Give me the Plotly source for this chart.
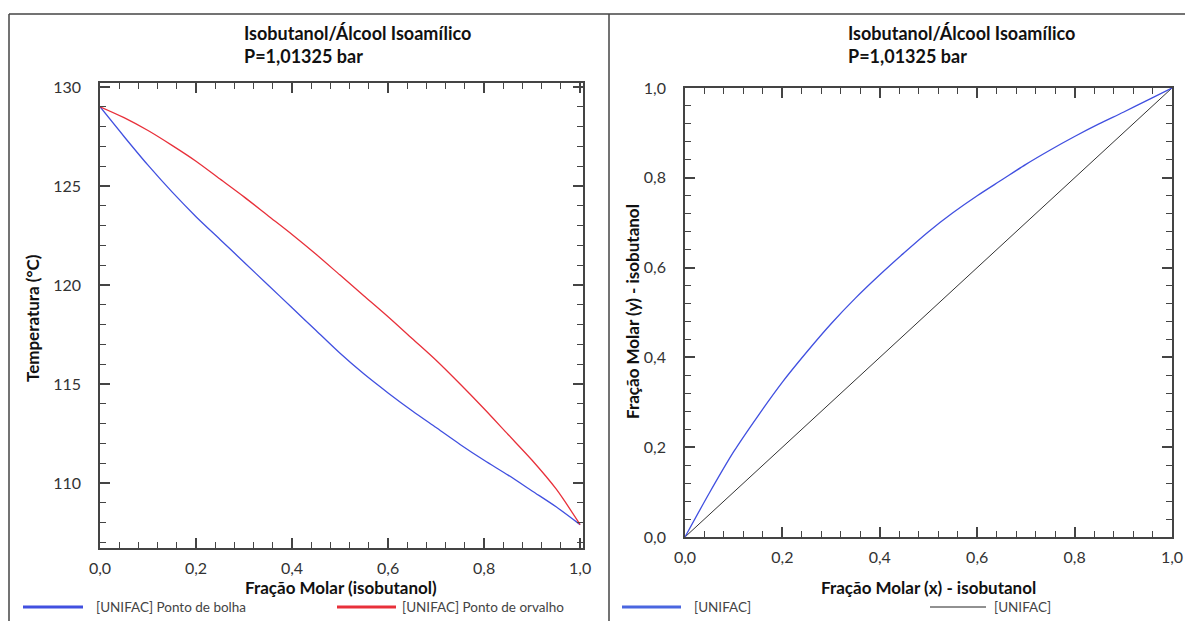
import plotly.graph_objects as go

# --- T-x-y diagram (isobutanol / isoamyl alcohol, UNIFAC, P = 1.01325 bar) ---
x_frac = [0.00, 0.05, 0.10, 0.15, 0.20, 0.25, 0.30, 0.35, 0.40, 0.45, 0.50,
          0.55, 0.60, 0.65, 0.70, 0.75, 0.80, 0.85, 0.90, 0.95, 1.00]
t_bubble = [129.0, 127.5, 126.05, 124.7, 123.45, 122.3, 121.15, 120.0, 118.85, 117.7, 116.55,
            115.5, 114.55, 113.65, 112.8, 111.95, 111.15, 110.4, 109.6, 108.8, 107.9]
t_dew = [129.0, 128.45, 127.8, 127.05, 126.25, 125.35, 124.45, 123.5, 122.55, 121.55, 120.5,
         119.45, 118.4, 117.3, 116.2, 115.0, 113.75, 112.45, 111.15, 109.7, 107.9]

# --- x-y equilibrium diagram ---
y_vapor = [0.0, 0.098, 0.19, 0.27, 0.345, 0.412, 0.475, 0.532, 0.584, 0.633, 0.68,
           0.722, 0.76, 0.795, 0.83, 0.862, 0.892, 0.92, 0.946, 0.973, 1.0]
diag = [0.0, 1.0]

W, H = 1185, 621
M = 2  # thin page margin around the drawing area
BLUE = "#4150e0"
RED = "#e8303a"
AX = "#444444"
TXT = "#333333"
FONT = "Lato"


def px(x):
    return (x - M) / (W - 2 * M)


def py(y):
    return 1 - (y - M) / (H - 2 * M)


fig = go.Figure()
smooth = dict(shape="spline", smoothing=0.8)
fig.add_trace(go.Scatter(x=x_frac, y=t_bubble, mode="lines", name="[UNIFAC] Ponto de bolha",
                         line=dict(color=BLUE, width=1.3, **smooth), xaxis="x", yaxis="y"))
fig.add_trace(go.Scatter(x=x_frac, y=t_dew, mode="lines", name="[UNIFAC] Ponto de orvalho",
                         line=dict(color=RED, width=1.3, **smooth), xaxis="x", yaxis="y"))
fig.add_trace(go.Scatter(x=diag, y=diag, mode="lines", name="[UNIFAC]",
                         line=dict(color="#333333", width=1), xaxis="x2", yaxis="y2"))
fig.add_trace(go.Scatter(x=x_frac, y=y_vapor, mode="lines", name="[UNIFAC]",
                         line=dict(color=BLUE, width=1.3, **smooth), xaxis="x2", yaxis="y2"))


def axis(domain, rng, anchor, dtick, minor_dtick, fmt, standoff):
    return dict(domain=domain, range=rng, anchor=anchor, tickmode="linear", tick0=0,
                dtick=dtick, tickformat=fmt, layer="above traces",
                showline=True, linecolor=AX, linewidth=1.5, mirror="ticks",
                ticks="inside", ticklen=10, tickwidth=1.5, tickcolor=AX,
                minor=dict(dtick=minor_dtick, ticks="inside",
                           ticklen=6, tickwidth=1.3, tickcolor=AX),
                showgrid=True, gridcolor="rgba(0,0,0,0)", zeroline=False,
                ticklabelstandoff=standoff,
                tickfont=dict(family=FONT, size=16, color=TXT))


fig.update_layout(
    template="none",
    width=W, height=H, margin=dict(l=M, r=M, t=M, b=M),
    paper_bgcolor="white", plot_bgcolor="white", showlegend=False,
    separators=",.",
    xaxis=axis([px(100), px(583)], [0, 1.006], "y", 0.2, 0.04, ".1f", 5),
    yaxis=axis([py(548), py(83)], [106.72, 130.2], "x", 5, 1, "d", 14),
    xaxis2=axis([px(685), px(1172)], [0, 1.0], "y2", 0.2, 0.04, ".1f", 5),
    yaxis2=axis([py(537), py(88)], [0, 1.0], "x2", 0.2, 0.04, ".1f", 14),
)

ann = []


def text(x, y, s, size=15, bold=False, anchor="left", angle=0, color="#111111"):
    ann.append(dict(x=px(x), y=py(y), xref="paper", yref="paper", text=f"<b>{s}</b>" if bold else s,
                    showarrow=False, xanchor=anchor, yanchor="middle", textangle=angle,
                    font=dict(family=FONT, size=size, color=color)))


# titles
for x0 in (242, 846):
    text(x0, 33, "Isobutanol/Álcool Isoamílico", size=18, bold=True)
    text(x0, 56, "P=1,01325 bar", size=18, bold=True)

# axis titles
text(341, 587, "Fração Molar (isobutanol)", size=17, bold=True, anchor="center")
text(32, 318, "Temperatura (°C)", size=17, bold=True, anchor="center", angle=-90)
text(928, 587, "Fração Molar (x) - isobutanol", size=17, bold=True, anchor="center")
text(632, 312, "Fração Molar (y) - isobutanol", size=17, bold=True, anchor="center", angle=-90)

# legend rows
legend_items = [
    (23, 83, BLUE, 3, "[UNIFAC] Ponto de bolha", 94),
    (337, 396, RED, 3, "[UNIFAC] Ponto de orvalho", 400),
    (622, 681, "#4a66e0", 3, "[UNIFAC]", 692),
    (930, 986, "#222222", 1, "[UNIFAC]", 992),
]
shapes = []
for xa, xb, col, wdt, label, xt in legend_items:
    shapes.append(dict(type="line", xref="paper", yref="paper", x0=px(xa), x1=px(xb),
                       y0=py(607), y1=py(607), line=dict(color=col, width=wdt)))
    text(xt, 607, label, size=13.5, color="#444444")

# panel borders
BORDER = dict(color="#444444", width=1.5)
shapes.append(dict(type="line", xref="paper", yref="paper", x0=px(9), x1=px(W), y0=py(14), y1=py(14), line=BORDER))
shapes.append(dict(type="line", xref="paper", yref="paper", x0=px(9), x1=px(9), y0=py(H), y1=py(14), line=BORDER))
shapes.append(dict(type="line", xref="paper", yref="paper", x0=px(609), x1=px(609), y0=py(H), y1=py(14), line=BORDER))

fig.update_layout(annotations=ann, shapes=shapes)
fig.write_html("out.html")
